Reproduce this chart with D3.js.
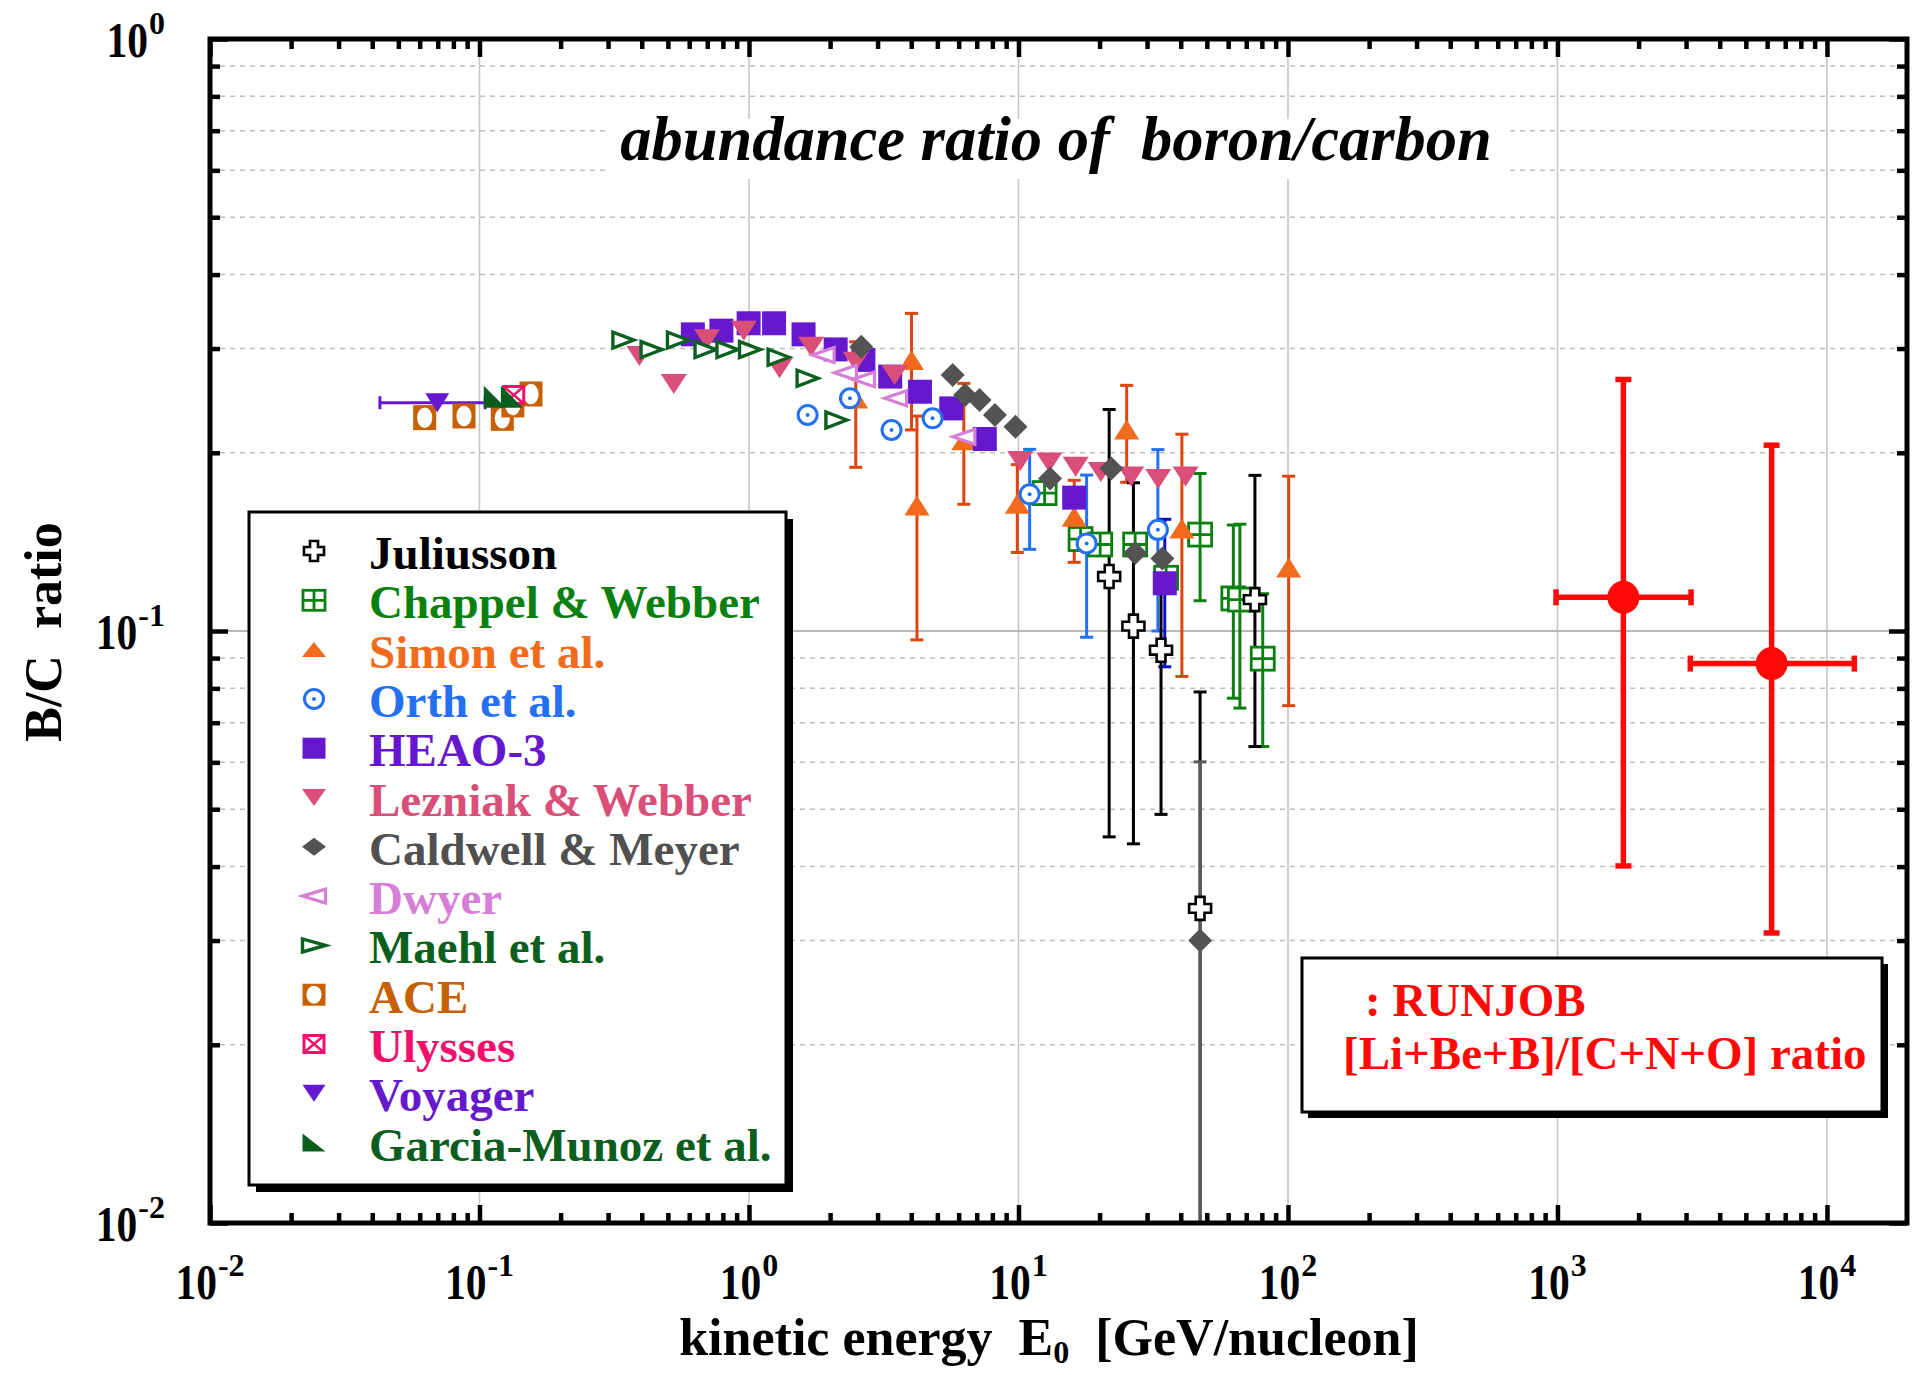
<!DOCTYPE html>
<html>
<head>
<meta charset="utf-8">
<script src="https://cdn.jsdelivr.net/npm/d3@7/dist/d3.min.js"></script>
<style>
  body { margin: 0; background: #fff; }
  text { font-family: "Liberation Serif", "Times New Roman", serif; font-weight: bold; white-space: pre; }
</style>
</head>
<body>
<svg id="chart" width="1912" height="1375"></svg>
<script>
// ---- data (kinetic energy in GeV/nucleon, B/C ratio) ----
const julE  = [21.7, 26.7, 33.8, 47.2, 75.4];
const julR  = [0.1236, 0.1019, 0.0928, 0.034, 0.113];
const julLo = [0.0449, 0.0437, 0.049, 0.005, 0.0638];
const julHi = [0.2367, 0.178, 0.117, 0.0789, 0.1832];

const cwE  = [12.5, 17.0, 20.1, 27.1, 35.3, 47.2, 62.7, 66.3, 80.6];
const cwR  = [0.171, 0.143, 0.140, 0.140, 0.123, 0.1455, 0.1135, 0.113, 0.0898];
const cwLo = [null, null, null, null, null, 0.1125, 0.077, 0.0741, 0.0638];
const cwHi = [null, null, null, null, null, 0.1845, 0.151, 0.1515, 0.1156];

const simE  = [2.49, 4.01, 4.20, 6.27, 9.9, 16.1, 25.2, 40.4, 100.6];
const simR  = [0.247, 0.287, 0.163, 0.210, 0.164, 0.156, 0.219, 0.149, 0.128];
const simLo = [0.189, 0.2186, 0.0966, 0.1637, 0.1357, 0.1306, 0.1783, 0.0838, 0.0748];
const simHi = [0.308, 0.344, 0.2307, 0.262, 0.191, 0.1797, 0.260, 0.215, 0.1826];

const orthE  = [1.65, 2.37, 3.38, 4.80, 11.0, 17.9, 32.9];
const orthR  = [0.2317, 0.2472, 0.2186, 0.2287, 0.1702, 0.1406, 0.1482];
const orthLo = [null, null, null, null, 0.1374, 0.0976, 0.100];
const orthHi = [null, null, null, null, 0.2027, 0.1834, 0.2025];

const heaoE  = [0.619, 0.790, 0.997, 1.239, 1.594, 2.097, 2.658, 3.342, 4.31, 5.63, 7.50, 16.1, 34.9];
const heaoR  = [0.317, 0.3216, 0.331, 0.331, 0.317, 0.299, 0.287, 0.269, 0.2536, 0.2377, 0.211, 0.168, 0.1204];
const heaoLo = [null, null, null, null, null, null, null, null, null, null, null, null, 0.087];
const heaoHi = [null, null, null, null, null, null, null, null, null, null, null, null, 0.1544];

const lezE = [0.392, 0.526, 0.699, 0.957, 1.298, 1.701, 2.49, 3.47, 10.15, 13.0, 16.3, 20.2, 26.2, 33.0, 41.7];
const lezR = [0.2913, 0.2614, 0.311, 0.3216, 0.2778, 0.302, 0.285, 0.2706, 0.1937, 0.1926, 0.1894, 0.1856, 0.1824, 0.1806, 0.1824];

const calE  = [2.61, 5.70, 6.34, 7.17, 8.18, 9.75, 13.1, 22.1, 27.1, 34.2, 47.2];
const calR  = [0.302, 0.2706, 0.2504, 0.2456, 0.2317, 0.2214, 0.181, 0.1882, 0.1354, 0.1326, 0.030];
const calLo = [null, null, null, null, null, null, null, null, null, null, 0.005];
const calHi = [null, null, null, null, null, null, null, null, null, null, 0.0601];

const dwyE = [1.885, 2.28, 2.66, 3.50, 6.27];
const dwyR = [0.2925, 0.273, 0.2661, 0.2472, 0.2129];

const maeE = [0.342, 0.435, 0.545, 0.690, 0.832, 1.009, 1.288, 1.65, 2.11];
const maeR = [0.310, 0.2988, 0.310, 0.2988, 0.2988, 0.2988, 0.290, 0.2673, 0.2272];

const aceE = [0.0626, 0.0876, 0.1215, 0.133, 0.1553];
const aceR = [0.2293, 0.2308, 0.2287, 0.2409, 0.2514];

const ulyE = [0.134];
const ulyR = [0.2504];

const voyE   = [0.0697];
const voyR   = [0.243];
const voyXlo = [0.0427];
const voyXhi = [0.105];

const garE = [0.1139, 0.1319];
const garR = [0.2487, 0.2487];

const rjE   = [1756, 6233];
const rjR   = [0.114, 0.0881];
const rjLo  = [0.0401, 0.0309];
const rjHi  = [0.266, 0.206];
const rjXlo = [988, 3111];
const rjXhi = [3131, 12640];

const xExps = [-2, -1, 0, 1, 2, 3, 4];
const yExps = [0, -1, -2];

// ---- layout ----
const svg = d3.select("#chart");
const L = 210, R = 1907, T = 39, B = 1223;

const x = d3.scaleLog().domain([1e-2, Math.pow(10, 4.297)]).range([L, R]);
const y = d3.scaleLog().domain([1e-2, 1]).range([B, T]);

svg.append("defs").append("clipPath").attr("id", "plotclip")
  .append("rect").attr("x", L).attr("y", T).attr("width", R - L).attr("height", B - T);

// minor values
const minorX = [], minorY = [];
for (let k = -2; k <= 4; k++) for (let m = 2; m <= 9; m++) {
  const v = m * Math.pow(10, k);
  if (v < x.domain()[1]) minorX.push(v);
}
for (let k = -2; k <= -1; k++) for (let m = 2; m <= 9; m++) minorY.push(m * Math.pow(10, k));
const majorX = xExps.map(e => Math.pow(10, e));
const majorY = [1e-2, 1e-1, 1];

// grid
const grid = svg.append("g");
grid.selectAll(".vg").data(majorX.slice(1)).enter().append("line")
  .attr("x1", d => x(d)).attr("x2", d => x(d)).attr("y1", T).attr("y2", B)
  .attr("stroke", "#c6c6c6").attr("stroke-width", 1.6);
grid.selectAll(".hg").data(minorY).enter().append("line")
  .attr("x1", L).attr("x2", R).attr("y1", d => y(d)).attr("y2", d => y(d))
  .attr("stroke", "#bdbdbd").attr("stroke-width", 1.5).attr("stroke-dasharray", "5,5");
grid.append("line").attr("x1", L).attr("x2", R).attr("y1", y(0.1)).attr("y2", y(0.1))
  .attr("stroke", "#b8b8b8").attr("stroke-width", 1.8);

// title (white backing hides the grid)
svg.append("rect").attr("x", 606).attr("y", 119).attr("width", 900).attr("height", 60).attr("fill", "#fff");
svg.append("text").attr("x", 1056).attr("y", 160).attr("text-anchor", "middle")
  .attr("font-size", 62.5).attr("font-style", "italic").attr("xml:space", "preserve")
  .text("abundance ratio of  boron/carbon");

// ---- markers ----
function drawMarker(g, type, w, h, col) {
  const a = w / 2, b = h / 2;
  if (type === "cross") {
    const t = w * 0.2;
    g.append("path").attr("d", `M${-t},${-b}H${t}V${-t}H${a}V${t}H${t}V${b}H${-t}V${t}H${-a}V${-t}H${-t}Z`)
      .attr("fill", "#fff").attr("stroke", col).attr("stroke-width", 2.6);
  } else if (type === "squareplus") {
    g.append("rect").attr("x", -a).attr("y", -b).attr("width", w).attr("height", h)
      .attr("fill", "#fff").attr("stroke", col).attr("stroke-width", 2.8);
    g.append("path").attr("d", `M0,${-b}V${b}M${-a},0H${a}`).attr("stroke", col).attr("stroke-width", 2.8);
  } else if (type === "triUp") {
    g.append("path").attr("d", `M0,${-b}L${a},${b}L${-a},${b}Z`).attr("fill", col);
  } else if (type === "triDown") {
    g.append("path").attr("d", `M${-a},${-b}L${a},${-b}L0,${b}Z`).attr("fill", col);
  } else if (type === "triLeft") {
    g.append("path").attr("d", `M${-a},0L${a},${-b}L${a},${b}Z`)
      .attr("fill", "#fff").attr("stroke", col).attr("stroke-width", 3.2).attr("stroke-linejoin", "miter");
  } else if (type === "triRight") {
    g.append("path").attr("d", `M${a},0L${-a},${-b}L${-a},${b}Z`)
      .attr("fill", "#fff").attr("stroke", col).attr("stroke-width", 3.4).attr("stroke-linejoin", "miter");
  } else if (type === "diamond") {
    g.append("path").attr("d", `M0,${-b}L${a},0L0,${b}L${-a},0Z`).attr("fill", col);
  } else if (type === "square") {
    g.append("rect").attr("x", -a).attr("y", -b).attr("width", w).attr("height", h).attr("fill", col);
  } else if (type === "circledot") {
    g.append("circle").attr("r", a - 1.5).attr("fill", "#fff").attr("stroke", col).attr("stroke-width", 3);
    g.append("circle").attr("r", 2).attr("fill", col);
  } else if (type === "ace") {
    g.append("rect").attr("x", -a).attr("y", -b).attr("width", w).attr("height", h).attr("fill", col);
    g.append("ellipse").attr("rx", a * 0.66).attr("ry", b * 0.82).attr("fill", "#fff");
  } else if (type === "squarex") {
    g.append("rect").attr("x", -a + 1.5).attr("y", -b + 1.5).attr("width", w - 3).attr("height", h - 3)
      .attr("fill", "#fff").attr("stroke", col).attr("stroke-width", 3);
    g.append("path").attr("d", `M${-a + 1.5},${-b + 1.5}L${a - 1.5},${b - 1.5}M${a - 1.5},${-b + 1.5}L${-a + 1.5},${b - 1.5}`)
      .attr("stroke", col).attr("stroke-width", 2.5);
  } else if (type === "corner") {
    g.append("path").attr("d", `M${-a},${-b}L${-a},${b}L${a},${b}Z`).attr("fill", col);
  } else if (type === "disc") {
    g.append("ellipse").attr("rx", a).attr("ry", b).attr("fill", col);
  }
}

const series = [
  { name: "Chappel & Webber", E: cwE, R: cwR, lo: cwLo, hi: cwHi, shape: "squareplus", w: 23, h: 23, col: "#0a800f", err: "#0a800f" },
  { name: "Simon et al.", E: simE, R: simR, lo: simLo, hi: simHi, shape: "triUp", w: 25, h: 20, col: "#f26a1b", err: "#dd4410" },
  { name: "Juliusson", E: julE, R: julR, lo: julLo, hi: julHi, shape: "cross", w: 22, h: 23, col: "#000", err: "#000" },
  { name: "HEAO-3", E: heaoE, R: heaoR, lo: heaoLo, hi: heaoHi, shape: "square", w: 24, h: 24, col: "#6618cf", err: "#0a10cc" },
  { name: "Lezniak & Webber", E: lezE, R: lezR, shape: "triDown", w: 26, h: 20, col: "#d94f7a" },
  { name: "Orth et al.", E: orthE, R: orthR, lo: orthLo, hi: orthHi, shape: "circledot", w: 22, h: 22, col: "#2470f2", err: "#2470f2" },
  { name: "Caldwell & Meyer", E: calE, R: calR, lo: calLo, hi: calHi, shape: "diamond", w: 24, h: 24, col: "#535353", err: "#5a5a5a" },
  { name: "Dwyer", E: dwyE, R: dwyR, shape: "triLeft", w: 22, h: 15, col: "#d77fd8" },
  { name: "Maehl et al.", E: maeE, R: maeR, shape: "triRight", w: 21, h: 16, col: "#0b6020" },
  { name: "ACE", E: aceE, R: aceR, shape: "ace", w: 23, h: 25, col: "#c66000" },
  { name: "Ulysses", E: ulyE, R: ulyR, shape: "squarex", w: 23, h: 20, col: "#f2106c" },
  { name: "Voyager", E: voyE, R: voyR, xlo: voyXlo, xhi: voyXhi, shape: "triDown", w: 24, h: 19, col: "#6618cf", err: "#6618cf" },
  { name: "Garcia-Munoz et al.", E: garE, R: garR, shape: "corner", w: 22, h: 22, col: "#0b5e1e" },
  { name: "RUNJOB", E: rjE, R: rjR, lo: rjLo, hi: rjHi, xlo: rjXlo, xhi: rjXhi, shape: "disc", w: 32, h: 33, col: "#ff0808", err: "#ff0808", ew: 5.5, cap: 16 }
];

const plot = svg.append("g").attr("clip-path", "url(#plotclip)");

// error bars first
const errOrder = ["Simon et al.", "Orth et al.", "HEAO-3", "Chappel & Webber", "Juliusson", "Caldwell & Meyer", "Voyager", "RUNJOB"];
errOrder.forEach(nm => {
  const s = series.find(d => d.name === nm);
  const ew = s.ew || 3, cap = (s.cap || 13) / 2;
  const g = plot.append("g").attr("stroke", s.err).attr("stroke-width", ew).attr("fill", "none");
  s.E.forEach((e, i) => {
    const cx = x(e), cy = y(s.R[i]);
    if (s.lo && s.lo[i] != null) {
      const y1 = y(s.lo[i]), y2 = y(s.hi[i]);
      g.append("line").attr("x1", cx).attr("x2", cx).attr("y1", y1).attr("y2", y2);
      g.append("line").attr("x1", cx - cap).attr("x2", cx + cap).attr("y1", y1).attr("y2", y1);
      g.append("line").attr("x1", cx - cap).attr("x2", cx + cap).attr("y1", y2).attr("y2", y2);
    }
    if (s.xlo && s.xlo[i] != null) {
      const x1 = x(s.xlo[i]), x2 = x(s.xhi[i]);
      g.append("line").attr("x1", x1).attr("x2", x2).attr("y1", cy).attr("y2", cy);
      g.append("line").attr("x1", x1).attr("x2", x1).attr("y1", cy - cap).attr("y2", cy + cap);
      g.append("line").attr("x1", x2).attr("x2", x2).attr("y1", cy - cap).attr("y2", cy + cap);
    }
  });
});

series.forEach(s => {
  const g = plot.append("g");
  s.E.forEach((e, i) => {
    const m = g.append("g").attr("transform", `translate(${x(e)},${y(s.R[i])})`);
    drawMarker(m, s.shape, s.w, s.h, s.col);
  });
});

// ---- axes (ticks inward) ----
function ticks(gen, pos, vals, len) {
  const g = svg.append("g").attr("transform", pos)
    .call(gen.tickValues(vals).tickSize(-len).tickFormat(""));
  g.select(".domain").remove();
  g.selectAll(".tick line").attr("stroke", "#000").attr("stroke-width", 4.5);
}
ticks(d3.axisBottom(x), `translate(0,${B})`, majorX, 18);
ticks(d3.axisBottom(x), `translate(0,${B})`, minorX, 10);
ticks(d3.axisTop(x), `translate(0,${T})`, majorX, 18);
ticks(d3.axisTop(x), `translate(0,${T})`, minorX, 10);
ticks(d3.axisLeft(y), `translate(${L},0)`, majorY, 18);
ticks(d3.axisLeft(y), `translate(${L},0)`, minorY, 10);
ticks(d3.axisRight(y), `translate(${R},0)`, majorY, 18);
ticks(d3.axisRight(y), `translate(${R},0)`, minorY, 10);

svg.append("rect").attr("x", L).attr("y", T).attr("width", R - L).attr("height", B - T)
  .attr("fill", "none").attr("stroke", "#000").attr("stroke-width", 5);

// power-of-ten tick labels: condensed "10" + superscript
const baseW = 41.5;
function powLabel(px, baseline, exp, align) {
  const sup = svg.append("text").attr("font-size", 32).text(exp);
  const supW = sup.node().getComputedTextLength();
  let start = align === "end" ? px - baseW - supW - 1 : px - (baseW + supW + 1) / 2;
  svg.append("g").attr("transform", `translate(${start},${baseline}) scale(0.83,1)`)
    .append("text").attr("font-size", 50).text("10");
  sup.attr("x", start + baseW + 1).attr("y", baseline - 23);
}
xExps.forEach(e => powLabel(x(Math.pow(10, e)), 1299, String(e), "middle"));
yExps.forEach(e => powLabel(165, y(Math.pow(10, e)) + 18, String(e), "end"));

// axis titles
const xt = svg.append("text").attr("x", 1049).attr("y", 1355).attr("text-anchor", "middle")
  .attr("font-size", 52).attr("xml:space", "preserve");
xt.append("tspan").text("kinetic energy  E");
xt.append("tspan").attr("font-size", 32).attr("dy", 8).text("0");
xt.append("tspan").attr("dy", -8).text("  [GeV/nucleon]");

svg.append("text").attr("transform", "translate(61,632) rotate(-90)").attr("text-anchor", "middle")
  .attr("font-size", 52).attr("xml:space", "preserve").text("B/C  ratio");

// ---- legend ----
function box(bx, by, bw, bh, sh) {
  svg.append("rect").attr("x", bx + sh).attr("y", by + sh).attr("width", bw).attr("height", bh).attr("fill", "#000");
  svg.append("rect").attr("x", bx).attr("y", by).attr("width", bw).attr("height", bh)
    .attr("fill", "#fff").attr("stroke", "#000").attr("stroke-width", 3);
}
box(249, 512, 537, 673, 7);

const legendNames = ["Juliusson", "Chappel & Webber", "Simon et al.", "Orth et al.", "HEAO-3", "Lezniak & Webber",
  "Caldwell & Meyer", "Dwyer", "Maehl et al.", "ACE", "Ulysses", "Voyager", "Garcia-Munoz et al."];
const legendText = { "Caldwell & Meyer": "#505050", "Chappel & Webber": "#0a800f" };
const legendSize = {
  "Juliusson": [20, 20], "Chappel & Webber": [22, 20], "Simon et al.": [24, 15], "Orth et al.": [22, 22],
  "HEAO-3": [23, 21], "Lezniak & Webber": [24, 17], "Caldwell & Meyer": [24, 18], "Dwyer": [23, 14],
  "Maehl et al.": [23, 13], "ACE": [23, 22], "Ulysses": [23, 20], "Voyager": [23, 17], "Garcia-Munoz et al.": [23, 18]
};
legendNames.forEach((nm, i) => {
  const s = series.find(d => d.name === nm);
  const base = 569 + i * 49.3;
  const m = svg.append("g").attr("transform", `translate(314,${base - 18})`);
  drawMarker(m, s.shape, legendSize[nm][0], legendSize[nm][1], s.col);
  svg.append("text").attr("x", 369).attr("y", base).attr("font-size", 47)
    .attr("fill", legendText[nm] || s.col).text(nm);
});

box(1302, 958, 580, 154, 6);
svg.append("text").attr("x", 1365).attr("y", 1016).attr("font-size", 47).attr("fill", "#ff0808").text(": RUNJOB");
svg.append("text").attr("x", 1343).attr("y", 1069).attr("font-size", 47).attr("fill", "#ff0808").text("[Li+Be+B]/[C+N+O] ratio");
</script>
</body>
</html>
